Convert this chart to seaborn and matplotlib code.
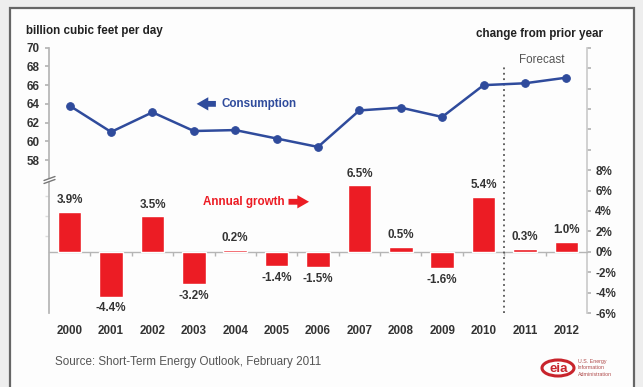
import numpy as np
import pandas as pd
import matplotlib
matplotlib.use("Agg")
import matplotlib.pyplot as plt
from matplotlib.patches import Rectangle, Ellipse, Polygon
from matplotlib.lines import Line2D
import seaborn as sns

# ---- data ----
years = ["2000", "2001", "2002", "2003", "2004", "2005", "2006",
         "2007", "2008", "2009", "2010", "2011", "2012"]
consumption = [63.8, 61.0, 63.1, 61.1, 61.2, 60.3, 59.4,
               63.3, 63.6, 62.6, 66.0, 66.2, 66.8]
growth = [3.9, -4.4, 3.5, -3.2, 0.2, -1.4, -1.5,
          6.5, 0.5, -1.6, 5.4, 0.3, 1.0]
left_ticks = [58, 60, 62, 64, 66, 68, 70]
right_ticks = list(range(-6, 21, 2))
right_labelled_max = 8

df = pd.DataFrame({"year": years, "consumption": consumption, "growth": growth})

sns.set_theme(style="white")
plt.rcParams["font.family"] = ["Liberation Sans", "DejaVu Sans"]

BLUE = "#2f4b9c"
RED = "#ec1c24"
DARK = "#333333"
GRAY = "#b5b5b5"
FS = 8.4

W, H = 643, 387
fig = plt.figure(figsize=(W / 100, H / 100), dpi=100, facecolor="#eeeeee")


def fx(px):
    return px / W


def fy(py):
    return 1 - py / H


# panel frame
fig.patches.append(Rectangle((fx(10), fy(400)), fx(634) - fx(10), fy(8) - fy(400),
                             transform=fig.transFigure, facecolor="#fdfdfd",
                             edgecolor="#666666", lw=1.6, zorder=-5))

rect = [fx(49), fy(313), fx(587) - fx(49), fy(47.7) - fy(313)]
ax_bar = fig.add_axes(rect)
ax_line = fig.add_axes(rect)
ax_line.patch.set_visible(False)
ax_bar.patch.set_visible(False)

# ---- annual growth bars (right axis) ----
sns.barplot(data=df, x="year", y="growth", color=RED, saturation=1,
            width=0.57, ax=ax_bar, zorder=3)
ax_bar.set_xlim(-0.5, len(years) - 0.5)
ax_bar.set_ylim(-6, 20)
ax_bar.yaxis.tick_right()
ax_bar.set_yticks(right_ticks)
ax_bar.set_yticklabels([f"{v}%" if v <= right_labelled_max else "" for v in right_ticks],
                       fontsize=FS, fontweight="bold", color=DARK)
ax_bar.tick_params(axis="y", which="major", right=True, left=False, length=3,
                   color=GRAY, pad=3)
ax_bar.set_yticks([-4, -2, 1.5, 3.5, 5.5], minor=True)
ax_bar.tick_params(axis="y", which="minor", left=True, right=False, length=3,
                   color="#dddddd")
ax_bar.set_xlabel("")
ax_bar.set_ylabel("")
ax_bar.set_xticks(range(len(years)))
ax_bar.set_xticklabels([])
ax_bar.set_xticks(np.arange(0.5, len(years) - 1, 1), minor=True)
ax_bar.tick_params(axis="x", which="major", length=0)
ax_bar.tick_params(axis="x", which="minor", bottom=True, length=3,
                   color=GRAY, direction="out")
for side in ("top", "left"):
    ax_bar.spines[side].set_visible(False)
ax_bar.spines["right"].set_color("#cccccc")
ax_bar.spines["bottom"].set_position(("data", 0))
ax_bar.spines["bottom"].set_color(GRAY)
ax_bar.spines["bottom"].set_linewidth(1.0)

for cont in ax_bar.containers:
    ax_bar.bar_label(cont, labels=[f"{v:.1f}%" for v in growth], padding=4,
                     fontsize=FS, fontweight="bold", color=DARK)

# forecast divider
ax_bar.plot([10.5, 10.5], [-6, 18.1], ls=(0, (1, 2)), color="#555555", lw=1.3, zorder=4)
ax_bar.text(11.4, 18.8, "Forecast", ha="center", va="center", fontsize=FS, color="#555555")

# annual growth label with arrow
ax_bar.text(3.22, 4.9, "Annual growth", ha="left", va="center", fontsize=FS,
            fontweight="bold", color=RED)
ax_bar.annotate("", xy=(5.85, 4.9), xytext=(5.22, 4.9),
                arrowprops=dict(arrowstyle="simple,head_length=0.7,head_width=0.8,tail_width=0.35",
                                color=RED, lw=0))

# ---- consumption line (left axis) ----
sns.lineplot(data=df, x="year", y="consumption", ax=ax_line, color=BLUE,
             marker="o", markersize=5.5, markeredgecolor=BLUE, lw=1.8, zorder=5)
ax_line.set_xlim(-0.5, len(years) - 0.5)
ax_line.set_ylim(41.66, 70)
ax_line.set_yticks(left_ticks)
ax_line.set_yticklabels([str(v) for v in left_ticks], fontsize=FS,
                        fontweight="bold", color=DARK)
ax_line.tick_params(axis="y", left=True, length=3, color=GRAY, pad=4)
ax_line.set_xticks(range(len(years)))
ax_line.set_xticklabels(years, fontsize=FS, fontweight="bold", color=DARK)
ax_line.tick_params(axis="x", length=0, pad=9)
ax_line.set_xlabel("")
ax_line.set_ylabel("")
for side in ("top", "right", "bottom"):
    ax_line.spines[side].set_visible(False)
ax_line.spines["left"].set_color(GRAY)

ax_line.text(3.66, 64.0, "Consumption", ha="left", va="center", fontsize=FS,
             fontweight="bold", color=BLUE)
ax_line.annotate("", xy=(3.0, 64.0), xytext=(3.6, 64.0),
                 arrowprops=dict(arrowstyle="simple,head_length=0.7,head_width=0.8,tail_width=0.35",
                                 color=BLUE, lw=0))

# axis break marks on the left spine
fig.patches.append(Polygon([(fx(44), fy(180.5)), (fx(55), fy(176.5)),
                            (fx(55), fy(179.5)), (fx(44), fy(183.5))],
                           closed=True, transform=fig.transFigure,
                           facecolor="white", edgecolor="none", zorder=10))
for dy in (0, 3):
    fig.lines.append(Line2D([fx(44), fx(55)], [fy(180.5 + dy), fy(176.5 + dy)],
                            transform=fig.transFigure, color="#777777", lw=1.0, zorder=11))

# ---- titles and notes ----
fig.text(fx(26), fy(31), "billion cubic feet per day", ha="left", va="center",
         fontsize=FS, fontweight="bold", color="#222222")
fig.text(fx(603), fy(34), "change from prior year", ha="right", va="center",
         fontsize=FS, fontweight="bold", color="#222222")
fig.text(fx(55), fy(362), "Source: Short-Term Energy Outlook, February 2011",
         ha="left", va="center", fontsize=FS, color="#555555")

# agency mark
fig.patches.append(Ellipse((fx(558), fy(368)), fx(32), 16 / H, transform=fig.transFigure,
                           facecolor="none", edgecolor="#c8242c", lw=2.2, zorder=5))
fig.text(fx(559), fy(368.5), "eia", ha="center", va="center", fontsize=9.5,
         fontweight="bold", color="#c8242c")
for i, line in enumerate(["U.S. Energy", "Information", "Administration"]):
    fig.text(fx(578), fy(361 + i * 6.5), line, ha="left", va="center",
             fontsize=3.8, color="#b04a4a")

fig.savefig("out.png", dpi=100, facecolor=fig.get_facecolor())
